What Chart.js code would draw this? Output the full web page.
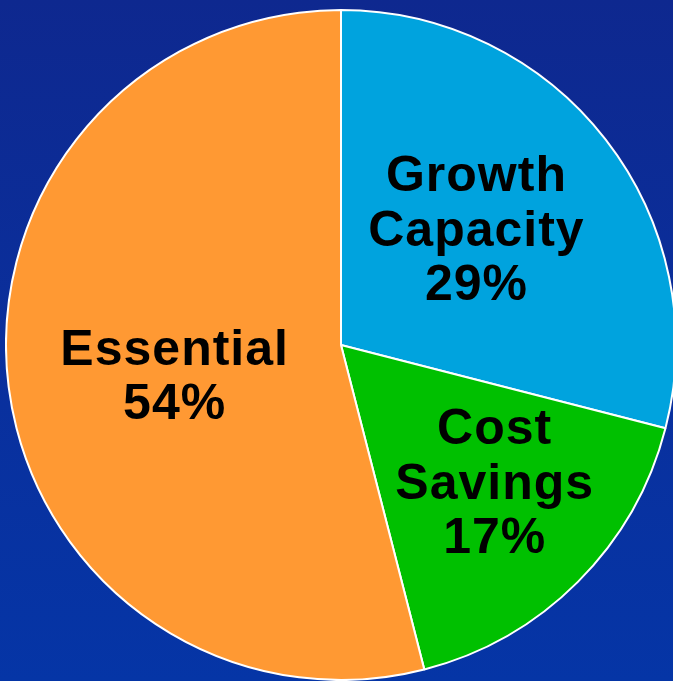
<!DOCTYPE html>
<html>
<head>
<meta charset="utf-8">
<script src="https://cdn.jsdelivr.net/npm/chart.js@4"></script>
<style>
    html, body {
        margin: 0;
        padding: 0;
        width: 673px;
        height: 681px;
        overflow: hidden;
        background: linear-gradient(to bottom, #0e288f 0%, #0a2f9c 50%, #0535a6 100%);
    }
    #wrap {
        position: absolute;
        left: 5px;
        top: 9px;
        width: 672px;
        height: 672px;
    }
</style>
</head>
<body>
<div id="wrap"><canvas id="budgetChart"></canvas></div>
<script>
// Budget split, clockwise from 12 o'clock
const categories = [['Growth', 'Capacity'], ['Cost', 'Savings'], ['Essential']];
const shares = [29, 17, 54];
const sliceColors = ['#00a3de', '#00c000', '#ff9933'];

// label anchor: fraction of the radius, and angle nudge (degrees) from the slice middle
const labelPlacement = [
    { r: 0.535, da: -3.1 },
    { r: 0.612, da: -3.55 },
    { r: 0.504, da: -2.65 }
];

const sliceLabels = {
    id: 'sliceLabels',
    afterDatasetsDraw(chart) {
        const ctx = chart.ctx;
        const meta = chart.getDatasetMeta(0);
        ctx.save();
        ctx.fillStyle = '#000';
        ctx.font = 'bold 50px "Liberation Sans", Arial, sans-serif';
        ctx.textAlign = 'center';
        ctx.textBaseline = 'alphabetic';
        if ('letterSpacing' in ctx) ctx.letterSpacing = '1px';
        const lineH = 54.5;
        const capH = 36;
        meta.data.forEach((arc, i) => {
            const p = arc.getProps(['x', 'y', 'startAngle', 'endAngle', 'outerRadius'], true);
            const mid = (p.startAngle + p.endAngle) / 2 + labelPlacement[i].da * Math.PI / 180;
            const cx = p.x + Math.cos(mid) * p.outerRadius * labelPlacement[i].r;
            const cy = p.y + Math.sin(mid) * p.outerRadius * labelPlacement[i].r;
            const lines = categories[i].concat([shares[i] + '%']);
            const first = cy - (lines.length - 1) * lineH / 2 + capH / 2;
            lines.forEach((t, k) => ctx.fillText(t, cx, first + k * lineH));
        });
        ctx.restore();
    }
};

new Chart(document.getElementById('budgetChart').getContext('2d'), {
    type: 'pie',
    data: {
        labels: categories.map(c => c.join(' ')),
        datasets: [{
            data: shares,
            backgroundColor: sliceColors,
            borderColor: '#ffffff',
            borderWidth: 2
        }]
    },
    options: {
        responsive: true,
        maintainAspectRatio: true,
        aspectRatio: 1,
        animation: false,
        layout: { padding: 0 },
        plugins: {
            legend: { display: false },
            tooltip: { enabled: false }
        }
    },
    plugins: [sliceLabels]
});
</script>
</body>
</html>
